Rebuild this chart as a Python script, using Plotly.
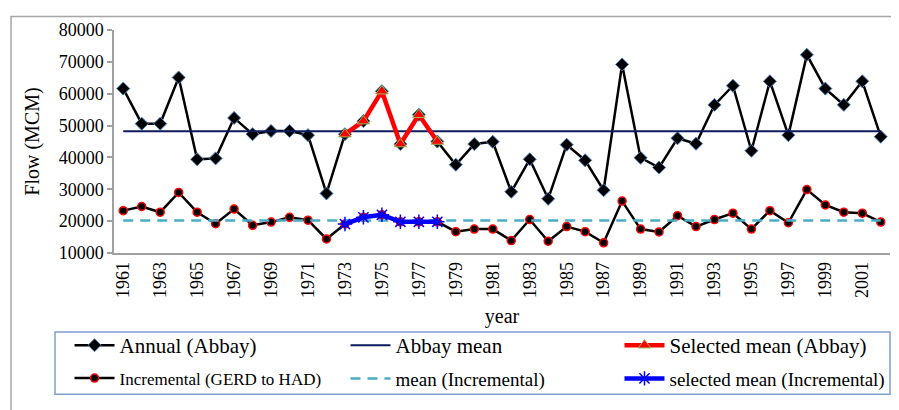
import plotly.graph_objects as go

# Data
years = list(range(1961, 2003))
annual_abbay = [61600, 50600, 50600, 65100, 39400, 39700, 52400, 47300, 48300, 48300,
                47000, 28700, 47300, 51400, 60800, 44200, 53400, 45000, 37700, 44200,
                44900, 29200, 39400, 27000, 44000, 39100, 29700, 69200, 39900, 36800,
                46000, 44300, 56500, 62500, 42100, 63900, 47000, 72200, 61600, 56500,
                63900, 46500]
incremental = [23300, 24600, 22800, 29000, 22800, 19200, 23800, 18700, 19700, 21200,
               20300, 14400, 19100, 21200, 22000, 19800, 19800, 19800, 16700, 17500,
               17500, 13900, 20500, 13700, 18300, 16700, 13200, 26300, 17500, 16600,
               21700, 18300, 20500, 22500, 17500, 23300, 19500, 29900, 25100, 22800,
               22500, 19700]
abbay_mean = 48200
incr_mean = 20200
sel_years = list(range(1973, 1979))
sel_abbay = [47300, 51400, 60800, 44200, 53400, 45000]
sel_incr = [19100, 21200, 22000, 19800, 19800, 19800]

font = "Liberation Serif"

fig = go.Figure()

fig.add_trace(go.Scatter(x=years, y=annual_abbay, mode="lines+markers", name="Annual (Abbay)",
                         line=dict(color="black", width=2.5),
                         marker=dict(symbol="diamond", size=10, color="black",
                                     line=dict(color="#4a7ebb", width=1)),
                         legend="legend"))
fig.add_trace(go.Scatter(x=years, y=incremental, mode="lines+markers",
                         name="Incremental (GERD to HAD)",
                         line=dict(color="black", width=2.5),
                         marker=dict(symbol="circle", size=8, color="black",
                                     line=dict(color="red", width=1.5)),
                         legend="legend4"))
fig.add_trace(go.Scatter(x=years, y=[abbay_mean] * len(years), mode="lines", name="Abbay mean",
                         line=dict(color="#0d1b5e", width=2), legend="legend2"))
fig.add_trace(go.Scatter(x=years, y=[incr_mean] * len(years), mode="lines", name="mean (Incremental)",
                         line=dict(color="#4bacc6", width=2.5, dash="10px,7px"), legend="legend5"))
fig.add_trace(go.Scatter(x=sel_years, y=sel_abbay, mode="lines+markers", name="Selected mean (Abbay)",
                         line=dict(color="red", width=4.5),
                         marker=dict(symbol="triangle-up", size=11, color="red",
                                     line=dict(color="#9bbb59", width=1)),
                         legend="legend3"))
fig.add_trace(go.Scatter(x=sel_years, y=sel_incr, mode="lines+markers", name="selected mean (Incremental)",
                         line=dict(color="#0000ff", width=4.5),
                         marker=dict(symbol="asterisk-open", size=12, color="#0000ff",
                                     line=dict(color="#0000ff", width=1.5)),
                         legend="legend6"))

# one legend per entry so the 3x2 grid sits where the reference has it
cols = [-0.0573, 0.2983, 0.6514]
rows = [-0.415, -0.563]
sizes = [[21, 21, 21], [17, 19, 19]]
legends = {}
for r in range(2):
    for c in range(3):
        key = "legend" if r == 0 and c == 0 else "legend%d" % (r * 3 + c + 1)
        legends[key] = dict(orientation="h", x=cols[c], xanchor="left", y=rows[r], yanchor="middle",
                            font=dict(family=font, size=sizes[r][c], color="black"),
                            bgcolor="rgba(0,0,0,0)", itemwidth=40)

# page body adds an 8px offset, so margins are trimmed by 8 on top/left
fig.update_layout(
    width=899, height=410,
    margin=dict(l=106, r=17, t=16, b=165),
    paper_bgcolor="white", plot_bgcolor="white",
    font=dict(family=font, color="black", size=18),
    showlegend=True,
    shapes=[
        # outer chart frame
        dict(type="rect", xref="paper", yref="paper", x0=-0.1327, x1=1.03, y0=-0.75, y1=1.061,
             line=dict(color="#a6a6a6", width=1.5), layer="below"),
        # legend box
        dict(type="rect", xref="paper", yref="paper", x0=-0.076, x1=1.0, y0=-0.633, y1=-0.354,
             line=dict(color="#7f9fcf", width=1.5), layer="below"),
    ],
    **legends,
)

fig.update_xaxes(
    range=[1960.5, 2002.5], tickmode="array", tickvals=list(range(1961, 2002, 2)),
    ticktext=[str(y) for y in range(1961, 2002, 2)], tickangle=-90,
    showgrid=False, zeroline=False, showline=True, linecolor="#a0a0a0", linewidth=1.5,
    ticks="", tickfont=dict(family=font, size=18, color="black"),
    title=dict(text="year", font=dict(family=font, size=20, color="black"), standoff=12),
)
fig.update_yaxes(
    range=[10000, 80000], dtick=10000, tickformat="d",
    showgrid=False, zeroline=False, showline=True, linecolor="#a0a0a0", linewidth=1.5,
    ticks="outside", ticklen=5, tickcolor="#a0a0a0", tickwidth=1.5,
    tickfont=dict(family=font, size=18, color="black"),
    title=dict(text="Flow (MCM)", font=dict(family=font, size=20, color="black"), standoff=14),
)

fig.write_html("out.html")
